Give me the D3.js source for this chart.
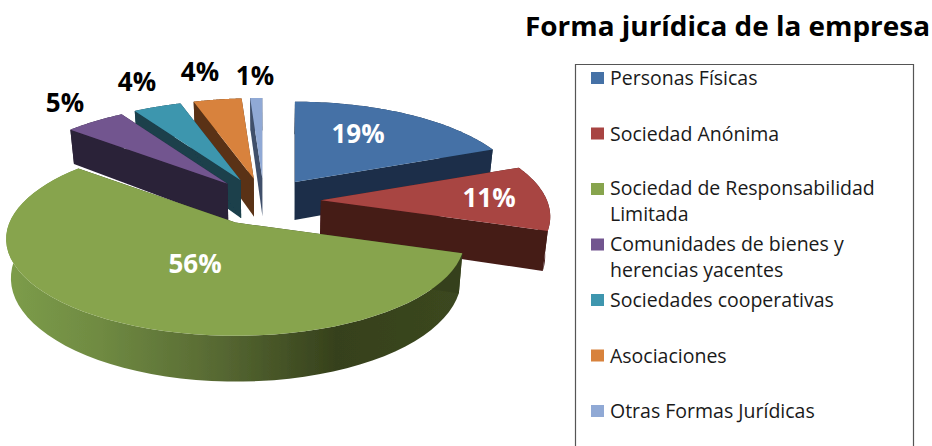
<!DOCTYPE html>
<html><head><meta charset="utf-8">
<script src="https://cdn.jsdelivr.net/npm/d3@7"></script>
<style>html,body{margin:0;padding:0;background:#fff;overflow:hidden}svg{display:block}</style>
</head><body><svg id="c" width="932" height="446"></svg>
<script>
const categories = ["Personas Físicas","Sociedad Anónima","Sociedad de Responsabilidad Limitada","Comunidades de bienes y herencias yacentes","Sociedades cooperativas","Asociaciones","Otras Formas Jurídicas"];
const values = [19,11,56,5,4,4,1];
const topColors = ["#4571a6","#a84442","#87a44d","#72558f","#3e96ae","#d8823c","#90a9d5"];
const wallColors = ["#1b2f48","#451b19","#36411c","#2b2138","#1a3f4c","#5a3317","#3f4f6b"];
const legendLines = [["Personas Físicas"],["Sociedad Anónima"],["Sociedad de Responsabilidad","Limitada"],["Comunidades de bienes y","herencias yacentes"],["Sociedades cooperativas"],["Asociaciones"],["Otras Formas Jurídicas"]];
const titleText = "Forma jurídica de la empresa";

// layout
const G = {x:264, y:201, explode:57, R:226, RT:94, k:0.17, h:38, shrink:0.982, vx:270};
const labelPos = [[358,134,"#fff"],[489,198,"#fff"],[195,264,"#fff"],[65,103,"#000"],[137,82,"#000"],[200,72,"#000"],[255,76,"#000"]];
const FONT = "'Open Sans','Noto Sans',sans-serif";

const svg = d3.select("#c");
const defs = svg.append("defs");
const grad = defs.append("linearGradient").attr("id","gw").attr("gradientUnits","userSpaceOnUse")
  .attr("x1",11).attr("x2",462).attr("y1",0).attr("y2",0);
[[0,"#7c9c49"],[.2,"#6f8a42"],[.45,"#586a33"],[.72,"#36411c"],[1,"#3b4720"]].forEach(s=>grad.append("stop").attr("offset",s[0]).attr("stop-color",s[1]));
defs.append("filter").attr("id","soft").append("feGaussianBlur").attr("stdDeviation",0.45);

const pie = d3.pie().sort(null).value(d=>d);
const arcs = pie(values);
const line = d3.line();

function slice(a,i){
  const mid=(a.startAngle+a.endAngle)/2;
  const ev=G.explode/G.R*Math.cos(mid), evp=1/(1+G.k*ev);
  const ax=G.x+G.explode*Math.sin(mid)*evp, ay=G.y-G.RT*ev*evp;
  const top=(t,r=1)=>{const u=Math.sin(t)*r,v=Math.cos(t)*r,p=1/(1+G.k*v);return [ax+G.R*u*p, ay-G.RT*v*p];};
  const bot=(t,r=1)=>{const q=top(t,r),u=Math.cos(t)*r,p=1/(1+G.k*u);return [G.vx+(q[0]-G.vx)*G.shrink,q[1]+G.h*p];};
  const ts=d3.range(0,61).map(j=>a.startAngle+(a.endAngle-a.startAngle)*j/60);
  return {i,a,ay,ax,top,bot,ts};
}
const slices=arcs.map(slice).sort((p,q)=>p.ay-q.ay);
const pg=svg.append("g").attr("filter","url(#soft)");
slices.forEach(s=>{
  const g=pg.append("g");
  const wall=s.i===2?"url(#gw)":wallColors[s.i];
  const apexTop=s.top(0,0), apexBot=s.bot(0,0);
  // outer wall
  g.append("path").attr("fill",wall).attr("d",line([...s.ts.map(t=>s.top(t)),...s.ts.slice().reverse().map(t=>s.bot(t))])+"Z");
  // radial walls
  [s.a.startAngle,s.a.endAngle].forEach(t=>{
    g.append("path").attr("fill",wallColors[s.i]).attr("d",line([apexTop,s.top(t),s.bot(t),apexBot])+"Z");
  });
  // top face
  g.append("path").attr("fill",topColors[s.i]).attr("d",line([apexTop,...s.ts.map(t=>s.top(t))])+"Z");
});

// data labels
svg.append("g").selectAll("text").data(values).join("text")
  .attr("x",(d,i)=>labelPos[i][0]).attr("y",(d,i)=>labelPos[i][1]+9)
  .attr("text-anchor","middle").attr("font-family",FONT).attr("font-weight",700).attr("font-size",26)
  .attr("fill",(d,i)=>labelPos[i][2]).text(d=>d+"%");

// title
svg.append("text").attr("x",525).attr("y",36).attr("font-family",FONT).attr("font-weight",700)
  .attr("font-size",26).attr("fill","#000").attr("textLength",405).attr("lengthAdjust","spacingAndGlyphs").text(titleText);

// legend
svg.append("path").attr("d","M575.5,446V64.5H913.5V446").attr("fill","none").attr("stroke","#555").attr("stroke-width",1.2);
const ly=d3.scalePoint().domain(categories).range([78,411]);
const lg=svg.append("g").selectAll("g").data(categories).join("g");
lg.append("rect").attr("x",591).attr("y",c=>ly(c)-6).attr("width",13).attr("height",12).attr("fill",(c,i)=>topColors[i]);
lg.each(function(c,i){
  const n=legendLines[i].length;
  legendLines[i].forEach((t,j)=>{
    d3.select(this).append("text").attr("x",610).attr("y",ly(c)+7+j*26-(n>1?1:0))
      .attr("font-family",FONT).attr("font-size",19.5).attr("fill","#1a1a1a").text(t);
  });
});
</script></body></html>
